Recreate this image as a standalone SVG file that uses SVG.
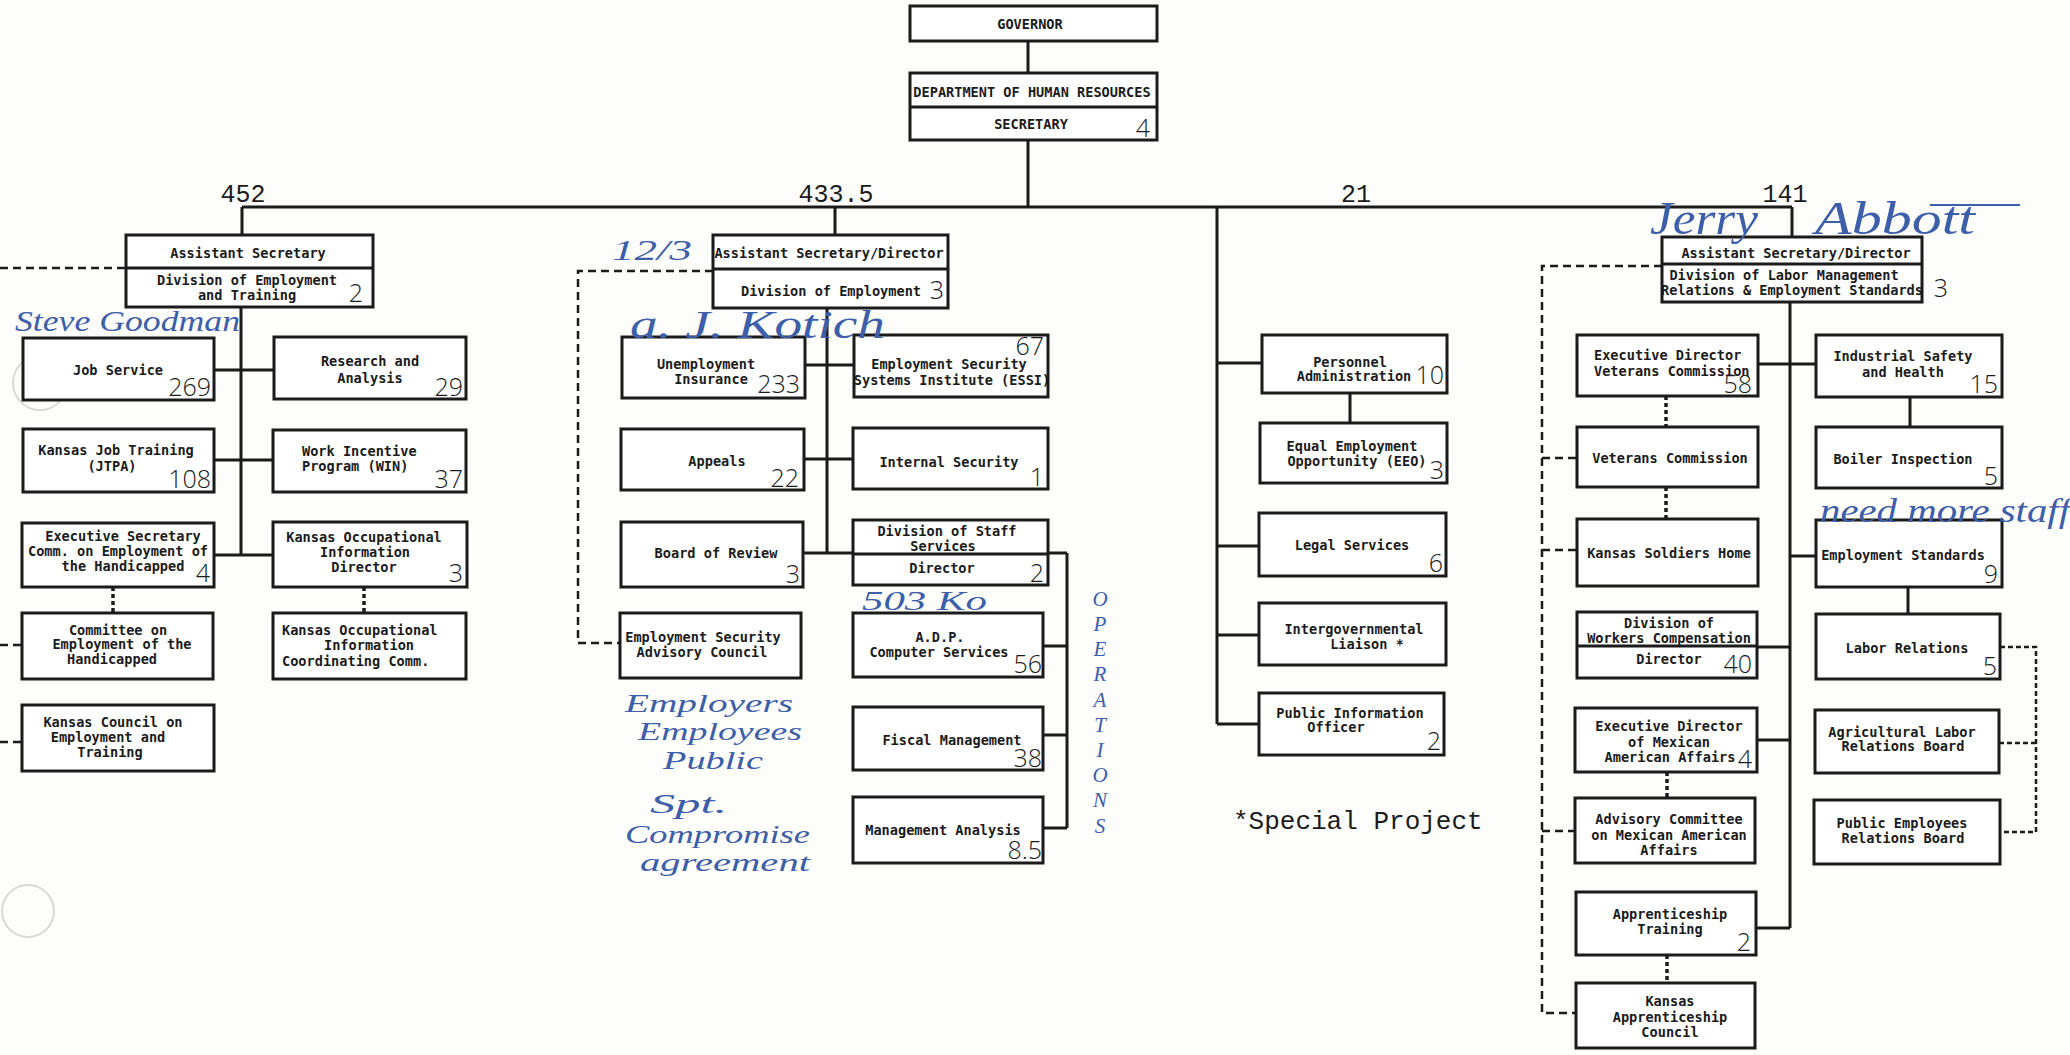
<svg xmlns="http://www.w3.org/2000/svg" width="2070" height="1055" viewBox="0 0 2070 1055">
<style>
.bg{fill:#fdfdfb}
.box{fill:#fff;stroke:#1b1b1b;stroke-width:3}
.div{stroke:#1b1b1b;stroke-width:3;fill:none}
.t{font-family:"DejaVu Sans Mono","Liberation Mono",monospace;font-size:13.6px;font-weight:bold;fill:#1b1b1b;text-anchor:middle}
.tl{text-anchor:start}
.n{font-family:"Open Sans","DejaVu Sans",sans-serif;font-weight:300;font-size:25px;fill:#1b1b1b;text-anchor:end}
.h{font-family:"Liberation Mono","Courier New",monospace;font-size:25px;fill:#1b1b1b;text-anchor:middle}
.sp{font-family:"Liberation Mono","Courier New",monospace;font-size:26px;fill:#1b1b1b}
.solid{stroke:#1b1b1b;stroke-width:3;fill:none}
.dash{stroke:#1b1b1b;stroke-width:2.5;fill:none;stroke-dasharray:8 5}
.dot{stroke:#1b1b1b;stroke-width:3.5;fill:none;stroke-dasharray:4 3}
.hw{font-family:"Liberation Serif","DejaVu Serif",serif;font-style:italic;fill:#3d5ea8}
.hole{fill:none;stroke:#d8d8d8;stroke-width:2}
</style>
<rect class="bg" x="0" y="0" width="2070" height="1055"/>
<circle class="hole" cx="40" cy="383" r="27"/>
<circle class="hole" cx="28" cy="911" r="26"/>

<g id="connectors">
  <path class="solid" d="M1028 41V73M1028 140V207M242 207H1792"/>
  <path class="solid" d="M242 207V235M241 307V555M214 370H274M214 460H273M214 555H273"/>
  <path class="solid" d="M835 207V235M827 308V553M805 365H854M804 459H853M803 553H1067M1067 553V828M1043 646H1067M1043 735H1067M1043 828H1067"/>
  <path class="solid" d="M1217 207V724M1217 363H1262M1350 393V423M1217 546H1259M1217 635H1259M1217 724H1259"/>
  <path class="solid" d="M1792 207V237M1790 302V928M1758 364H1816M1910 397V427M1790 556H1816M1908 587V614M1757 647H1790M1757 740H1790M1756 928H1790"/>
  <path class="dash" d="M0 268H126M0 645H22M0 742H22"/>
  <path class="dash" d="M713 271H578V643H620"/>
  <path class="dash" d="M1662 266H1542V1013H1576M1542 458H1577M1542 550H1577M1542 831H1575"/>
  <path class="dash" style="stroke-dasharray:5 3" d="M2000 647H2036V832H2000M1999 743H2036"/>
  <path class="dot" d="M113 587V613M364 587V613M1666 396V427M1666 487V519M1667 772V798M1667 955V983"/>
</g>

<g id="governor"><rect class="box" x="910" y="6" width="247" height="35"/><text class="t" x="1030" y="29">GOVERNOR</text></g>
<g id="dhr"><rect class="box" x="910" y="73" width="247" height="67"/><path class="div" d="M910 107H1157"/>
<text class="t" x="1032" y="97">DEPARTMENT OF HUMAN RESOURCES</text><text class="t" x="1031" y="129">SECRETARY</text><text class="n" x="1150" y="137">4</text></g>

<g id="labels">
<text class="h" x="243" y="202">452</text>
<text class="h" x="836" y="202">433.5</text>
<text class="h" x="1356" y="202">21</text>
<text class="h" x="1785" y="202">141</text>
<text class="sp" x="1233" y="829">*Special Project</text>
</g>

<!-- Left column -->
<g id="det"><rect class="box" x="126" y="235" width="247" height="72"/><path class="div" d="M126 268H373"/>
<text class="t" x="248" y="258">Assistant Secretary</text><text class="t" x="247" y="285">Division of Employment</text><text class="t" x="247" y="300">and Training</text><text class="n" x="363" y="302">2</text></g>
<g id="jobservice"><rect class="box" x="23" y="338" width="191" height="62"/><text class="t" x="118" y="375">Job Service</text><text class="n" x="211" y="396">269</text></g>
<g id="research"><rect class="box" x="274" y="337" width="192" height="62"/><text class="t" x="370" y="366">Research and</text><text class="t" x="370" y="383">Analysis</text><text class="n" x="463" y="396">29</text></g>
<g id="jtpa"><rect class="box" x="23" y="429" width="191" height="63"/><text class="t" x="116" y="455">Kansas Job Training</text><text class="t" x="112" y="471">(JTPA)</text><text class="n" x="211" y="488">108</text></g>
<g id="win"><rect class="box" x="273" y="430" width="193" height="62"/><text class="t tl" x="302" y="456">Work Incentive</text><text class="t tl" x="302" y="471">Program (WIN)</text><text class="n" x="463" y="488">37</text></g>
<g id="execsec"><rect class="box" x="22" y="523" width="192" height="64"/><text class="t" x="123" y="541">Executive Secretary</text><text class="t" x="118" y="556">Comm. on Employment of</text><text class="t" x="123" y="571">the Handicapped</text><text class="n" x="210" y="582">4</text></g>
<g id="koid"><rect class="box" x="273" y="522" width="194" height="65"/><text class="t" x="364" y="542">Kansas Occupational</text><text class="t" x="365" y="557">Information</text><text class="t" x="364" y="572">Director</text><text class="n" x="463" y="582">3</text></g>
<g id="committee"><rect class="box" x="22" y="613" width="191" height="66"/><text class="t" x="118" y="635">Committee on</text><text class="t" x="122" y="649">Employment of the</text><text class="t" x="112" y="664">Handicapped</text></g>
<g id="koicc"><rect class="box" x="273" y="613" width="193" height="66"/><text class="t tl" x="282" y="635">Kansas Occupational</text><text class="t" x="369" y="650">Information</text><text class="t tl" x="282" y="666">Coordinating Comm.</text></g>
<g id="kcet"><rect class="box" x="22" y="705" width="192" height="66"/><text class="t" x="113" y="727">Kansas Council on</text><text class="t" x="108" y="742">Employment and</text><text class="t" x="110" y="757">Training</text></g>

<!-- Division of Employment -->
<g id="de"><rect class="box" x="713" y="235" width="235" height="73"/><path class="div" d="M713 269H948"/>
<text class="t" x="829" y="258">Assistant Secretary/Director</text><text class="t" x="831" y="296">Division of Employment</text><text class="n" x="944" y="299">3</text></g>
<g id="ui"><rect class="box" x="622" y="337" width="183" height="61"/><text class="t" x="706" y="369">Unemployment</text><text class="t" x="711" y="384">Insurance</text><text class="n" x="800" y="393">233</text></g>
<g id="essi"><rect class="box" x="854" y="335" width="194" height="62"/><text class="n" x="1044" y="355">67</text><text class="t" x="949" y="369">Employment Security</text><text class="t" x="952" y="385">Systems Institute (ESSI)</text></g>
<g id="appeals"><rect class="box" x="621" y="429" width="183" height="61"/><text class="t" x="717" y="466">Appeals</text><text class="n" x="799" y="487">22</text></g>
<g id="internal"><rect class="box" x="853" y="428" width="195" height="61"/><text class="t" x="949" y="467">Internal Security</text><text class="n" x="1044" y="486">1</text></g>
<g id="review"><rect class="box" x="621" y="522" width="182" height="65"/><text class="t" x="716" y="558">Board of Review</text><text class="n" x="800" y="583">3</text></g>
<g id="staff"><rect class="box" x="853" y="520" width="195" height="65"/><path class="div" d="M853 554H1048"/>
<text class="t" x="947" y="536">Division of Staff</text><text class="t" x="943" y="551">Services</text><text class="t" x="942" y="573">Director</text><text class="n" x="1044" y="582">2</text></g>
<g id="esac"><rect class="box" x="620" y="613" width="181" height="65"/><text class="t" x="703" y="642">Employment Security</text><text class="t" x="702" y="657">Advisory Council</text></g>
<g id="adp"><rect class="box" x="853" y="613" width="190" height="64"/><text class="t" x="940" y="642">A.D.P.</text><text class="t" x="939" y="657">Computer Services</text><text class="n" x="1042" y="673">56</text></g>
<g id="fiscal"><rect class="box" x="853" y="707" width="190" height="63"/><text class="t" x="952" y="745">Fiscal Management</text><text class="n" x="1042" y="767">38</text></g>
<g id="mgmt"><rect class="box" x="853" y="797" width="190" height="66"/><text class="t" x="943" y="835">Management Analysis</text><text class="n" x="1042" y="859">8.5</text></g>

<!-- Secretary staff -->
<g id="personnel"><rect class="box" x="1262" y="335" width="185" height="58"/><text class="t" x="1350" y="367">Personnel</text><text class="t" x="1354" y="381">Administration</text><text class="n" x="1444" y="384">10</text></g>
<g id="eeo"><rect class="box" x="1260" y="423" width="187" height="60"/><text class="t" x="1352" y="451">Equal Employment</text><text class="t" x="1357" y="466">Opportunity (EEO)</text><text class="n" x="1444" y="479">3</text></g>
<g id="legal"><rect class="box" x="1259" y="513" width="187" height="63"/><text class="t" x="1352" y="550">Legal Services</text><text class="n" x="1443" y="572">6</text></g>
<g id="igl"><rect class="box" x="1259" y="603" width="187" height="62"/><text class="t" x="1354" y="634">Intergovernmental</text><text class="t" x="1367" y="649">Liaison  *</text></g>
<g id="pio"><rect class="box" x="1259" y="693" width="185" height="62"/><text class="t" x="1350" y="718">Public Information</text><text class="t" x="1336" y="732">Officer</text><text class="n" x="1441" y="750">2</text></g>

<!-- Labor Management -->
<g id="lmr"><rect class="box" x="1662" y="237" width="260" height="65"/><path class="div" d="M1662 264H1922"/>
<text class="t" x="1796" y="258">Assistant Secretary/Director</text><text class="t" x="1784" y="280">Division of Labor Management</text><text class="t" x="1792" y="295">Relations &amp; Employment Standards</text><text class="n" x="1948" y="297">3</text></g>
<g id="edvc"><rect class="box" x="1577" y="335" width="181" height="61"/><text class="t tl" x="1594" y="360">Executive Director</text><text class="t tl" x="1594" y="376">Veterans Commission</text><text class="n" x="1752" y="393">58</text></g>
<g id="safety"><rect class="box" x="1816" y="335" width="186" height="62"/><text class="t" x="1903" y="361">Industrial Safety</text><text class="t" x="1903" y="377">and Health</text><text class="n" x="1998" y="393">15</text></g>
<g id="vc"><rect class="box" x="1577" y="427" width="181" height="60"/><text class="t" x="1670" y="463">Veterans Commission</text></g>
<g id="boiler"><rect class="box" x="1816" y="427" width="186" height="61"/><text class="t" x="1903" y="464">Boiler Inspection</text><text class="n" x="1998" y="485">5</text></g>
<g id="ksh"><rect class="box" x="1577" y="519" width="181" height="67"/><text class="t" x="1669" y="558">Kansas Soldiers Home</text></g>
<g id="es"><rect class="box" x="1816" y="520" width="186" height="67"/><text class="t" x="1903" y="560">Employment Standards</text><text class="n" x="1998" y="583">9</text></g>
<g id="wc"><rect class="box" x="1577" y="612" width="180" height="66"/><path class="div" d="M1577 646H1757"/>
<text class="t" x="1669" y="628">Division of</text><text class="t" x="1669" y="643">Workers Compensation</text><text class="t" x="1669" y="664">Director</text><text class="n" x="1752" y="673">40</text></g>
<g id="lr"><rect class="box" x="1816" y="614" width="184" height="65"/><text class="t" x="1907" y="653">Labor Relations</text><text class="n" x="1997" y="675">5</text></g>
<g id="edmaa"><rect class="box" x="1575" y="708" width="182" height="64"/><text class="t" x="1669" y="731">Executive Director</text><text class="t" x="1669" y="747">of Mexican</text><text class="t" x="1670" y="762">American Affairs</text><text class="n" x="1752" y="768">4</text></g>
<g id="alrb"><rect class="box" x="1815" y="710" width="184" height="63"/><text class="t" x="1902" y="737">Agricultural Labor</text><text class="t" x="1903" y="751">Relations Board</text></g>
<g id="acmaa"><rect class="box" x="1575" y="798" width="180" height="65"/><text class="t" x="1669" y="824">Advisory Committee</text><text class="t" x="1669" y="840">on Mexican American</text><text class="t" x="1669" y="855">Affairs</text></g>
<g id="perb"><rect class="box" x="1814" y="800" width="186" height="64"/><text class="t" x="1902" y="828">Public Employees</text><text class="t" x="1903" y="843">Relations Board</text></g>
<g id="at"><rect class="box" x="1576" y="892" width="180" height="63"/><text class="t" x="1670" y="919">Apprenticeship</text><text class="t" x="1670" y="934">Training</text><text class="n" x="1751" y="951">2</text></g>
<g id="kac"><rect class="box" x="1576" y="983" width="179" height="65"/><text class="t" x="1670" y="1006">Kansas</text><text class="t" x="1670" y="1022">Apprenticeship</text><text class="t" x="1670" y="1037">Council</text></g>

<g id="annotations">
<text class="hw" x="15" y="331" font-size="30" textLength="225" lengthAdjust="spacingAndGlyphs">Steve Goodman</text>
<text class="hw" x="612" y="260" font-size="30" textLength="80" lengthAdjust="spacingAndGlyphs">12/3</text>
<text class="hw" x="630" y="338" font-size="40" textLength="255" lengthAdjust="spacingAndGlyphs">a. J. Kotich</text>
<text class="hw" x="862" y="610" font-size="28" textLength="125" lengthAdjust="spacingAndGlyphs">503 Ko</text>
<text class="hw" x="625" y="712" font-size="25" textLength="168" lengthAdjust="spacingAndGlyphs">Employers</text>
<text class="hw" x="638" y="740" font-size="25" textLength="164" lengthAdjust="spacingAndGlyphs">Employees</text>
<text class="hw" x="663" y="769" font-size="25" textLength="100" lengthAdjust="spacingAndGlyphs">Public</text>
<text class="hw" x="650" y="813" font-size="28" textLength="77" lengthAdjust="spacingAndGlyphs">Spt.</text>
<text class="hw" x="625" y="843" font-size="25" textLength="185" lengthAdjust="spacingAndGlyphs">Compromise</text>
<text class="hw" x="640" y="871" font-size="25" textLength="170" lengthAdjust="spacingAndGlyphs">agreement</text>
<text class="hw" font-size="21" text-anchor="middle"><tspan x="1100" y="606">O</tspan><tspan x="1100" y="631">P</tspan><tspan x="1100" y="656">E</tspan><tspan x="1100" y="681">R</tspan><tspan x="1100" y="707">A</tspan><tspan x="1100" y="732">T</tspan><tspan x="1100" y="757">I</tspan><tspan x="1100" y="782">O</tspan><tspan x="1100" y="807">N</tspan><tspan x="1100" y="833">S</tspan></text>
<text class="hw" x="1650" y="234" font-size="46" textLength="108" lengthAdjust="spacingAndGlyphs">Jerry</text>
<text class="hw" x="1815" y="234" font-size="46" textLength="160" lengthAdjust="spacingAndGlyphs">Abbott</text>
<path d="M1930 205H2020" stroke="#3d5ea8" stroke-width="2" fill="none"/>
<text class="hw" x="1820" y="522" font-size="34" textLength="250" lengthAdjust="spacingAndGlyphs">need more staff</text>
</g>
</svg>
